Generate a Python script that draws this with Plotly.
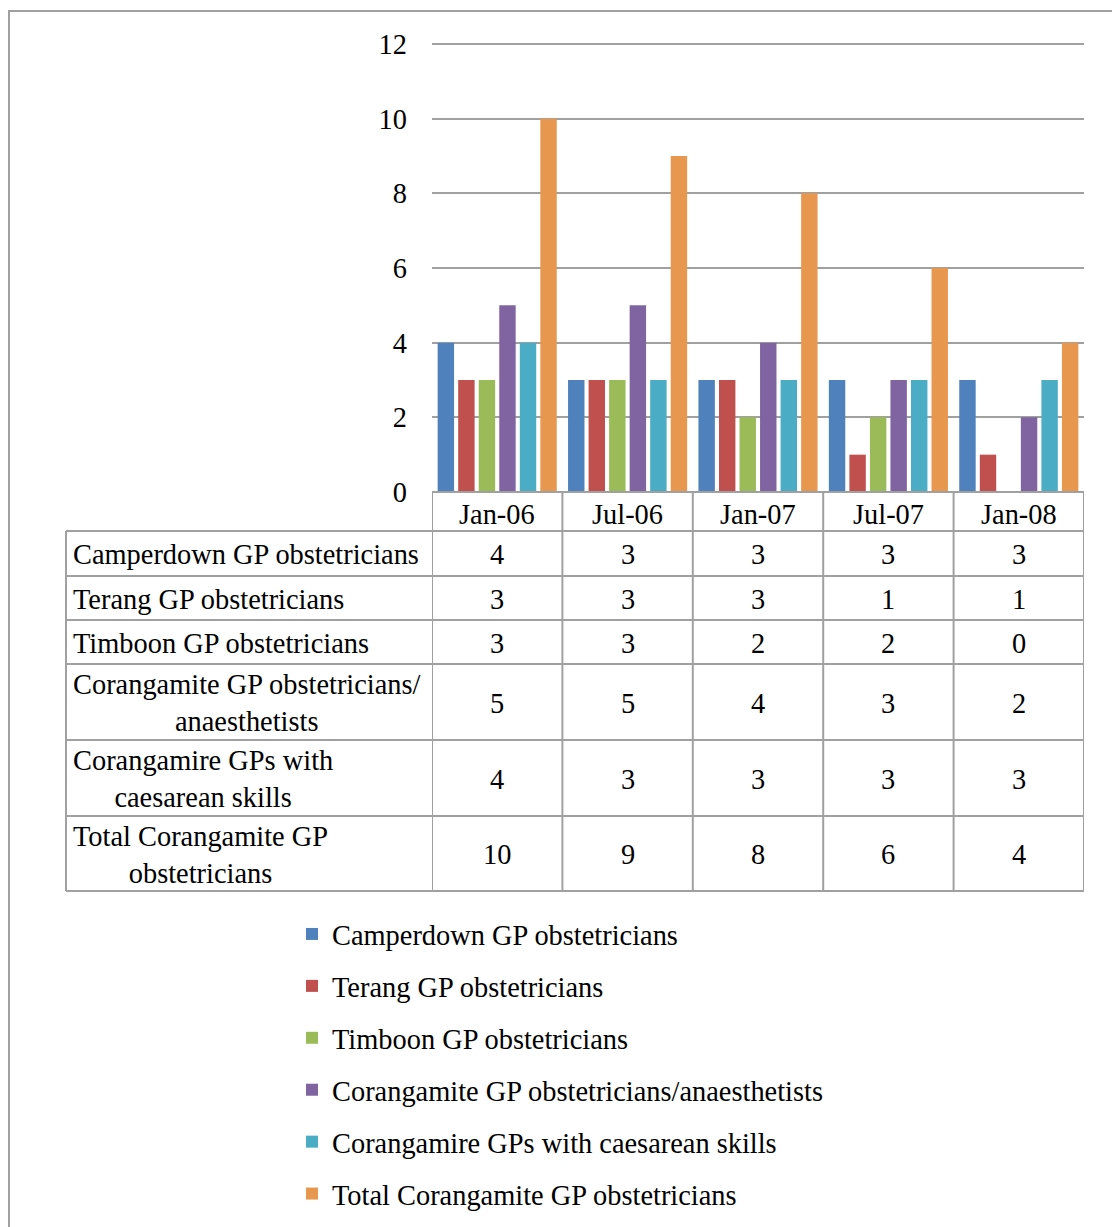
import plotly.graph_objects as go

# ---------------- data ----------------
categories = ["Jan-06", "Jul-06", "Jan-07", "Jul-07", "Jan-08"]
series_names = [
    "Camperdown GP obstetricians",
    "Terang GP obstetricians",
    "Timboon GP obstetricians",
    "Corangamite GP obstetricians/anaesthetists",
    "Corangamire GPs with caesarean skills",
    "Total Corangamite GP obstetricians",
]
table_labels = [
    "Camperdown GP obstetricians",
    "Terang GP obstetricians",
    "Timboon GP obstetricians",
    "Corangamite GP obstetricians/<br>anaesthetists",
    "Corangamire GPs with<br>caesarean skills",
    "Total Corangamite GP<br>obstetricians",
]
camperdown = [4, 3, 3, 3, 3]
terang = [3, 3, 3, 1, 1]
timboon = [3, 3, 2, 2, 0]
corangamite_anaes = [5, 5, 4, 3, 2]
caesarean = [4, 3, 3, 3, 3]
total = [10, 9, 8, 6, 4]
series_values = [camperdown, terang, timboon, corangamite_anaes, caesarean, total]
y_ticks = [0, 2, 4, 6, 8, 10, 12]

colors = ["#4F81BD", "#C0504D", "#9BBB59", "#8064A2", "#4BACC6", "#E8974E"]

# ---------------- layout helpers (page pixels -> paper) ----------------
OFF = 8                      # page body margin
W, H = 1120 - OFF, 1227 - OFF
def fx(p):
    return (p - OFF) / W
def fy(p):
    return 1 - (p - OFF) / H

FONT = "Liberation Serif"
FS = 28.4
GRID = "#A0A0A0"

plot_left, plot_right, plot_top, plot_bottom = 432, 1084, 44, 492
y_max = 12
y_pad = 0.05
px_per_unit = (plot_bottom - plot_top) / y_max
table_left = 66
header_bottom = 531
row_bounds = [531, 576, 620, 664, 740, 816, 891]

fig = go.Figure()
for i, (name, vals) in enumerate(zip(series_names, series_values)):
    fig.add_trace(go.Bar(
        x=list(range(len(categories))), y=vals, name=name,
        marker=dict(color=colors[i], line=dict(width=0)),
        legendgroup=f"g{i}",
    ))

shapes = []
line = dict(color=GRID, width=2)
# outer frame
shapes.append(dict(type="rect", xref="paper", yref="paper",
                   x0=fx(9), x1=fx(1119), y0=fy(1260), y1=fy(11),
                   line=line, fillcolor="rgba(0,0,0,0)", layer="below"))
# table: vertical lines at category boundaries
for k in range(len(categories) + 1):
    shapes.append(dict(type="line", xref="x", yref="paper",
                       x0=k - 0.5, x1=k - 0.5, y0=fy(plot_bottom), y1=fy(row_bounds[-1]),
                       line=line))
# left edge of label column
shapes.append(dict(type="line", xref="paper", yref="paper",
                   x0=fx(table_left), x1=fx(table_left),
                   y0=fy(header_bottom), y1=fy(row_bounds[-1]), line=line))
# horizontal row lines
for rb in row_bounds:
    shapes.append(dict(type="line", xref="paper", yref="paper",
                       x0=fx(table_left), x1=fx(plot_right), y0=fy(rb), y1=fy(rb),
                       line=line))
# top of header row (axis line)
shapes.append(dict(type="line", xref="paper", yref="paper",
                   x0=fx(plot_left), x1=fx(plot_right), y0=fy(plot_bottom), y1=fy(plot_bottom),
                   line=line))

annotations = []
font = dict(family=FONT, size=FS, color="#000000")
# header labels
for j, c in enumerate(categories):
    annotations.append(dict(x=j, y=fy((plot_bottom + header_bottom) / 2 + 3), xref="x", yref="paper",
                            text=c, showarrow=False, font=font,
                            xanchor="center", yanchor="middle"))
# rows
for i, (lab, vals) in enumerate(zip(table_labels, series_values)):
    yc = fy((row_bounds[i] + row_bounds[i + 1]) / 2 + 1)
    annotations.append(dict(x=fx(71), y=yc, xref="paper", yref="paper",
                            text=lab, showarrow=False, font=font, align="center",
                            xanchor="left", yanchor="middle"))
    for j, v in enumerate(vals):
        annotations.append(dict(x=j, y=yc, xref="x", yref="paper",
                                text=str(v), showarrow=False, font=font,
                                xanchor="center", yanchor="middle"))

fig.update_layout(
    width=W, height=H,
    margin=dict(l=0, r=0, t=0, b=0, autoexpand=False),
    paper_bgcolor="white", plot_bgcolor="white",
    font=font,
    barmode="group", bargap=0.055, bargroupgap=0.2,
    xaxis=dict(domain=[fx(plot_left), fx(plot_right)], range=[-0.5, 4.5],
               showticklabels=False, showgrid=False, zeroline=False, showline=False,
               automargin=False, fixedrange=True),
    yaxis=dict(domain=[fy(plot_bottom), fy(plot_top - y_pad * px_per_unit)],
               range=[0, y_max + y_pad],
               tickvals=y_ticks, showgrid=True, gridcolor=GRID, gridwidth=2,
               zeroline=False, showline=False, ticks="", ticklabelstandoff=24,
               tickfont=font, automargin=False, fixedrange=True),
    showlegend=True,
    legend=dict(x=fx(292), y=fy(909), xanchor="left", yanchor="top",
                font=font, tracegroupgap=12, bgcolor="rgba(0,0,0,0)",
                traceorder="grouped"),
    shapes=shapes,
    annotations=annotations,
)

fig.write_html("out.html")
